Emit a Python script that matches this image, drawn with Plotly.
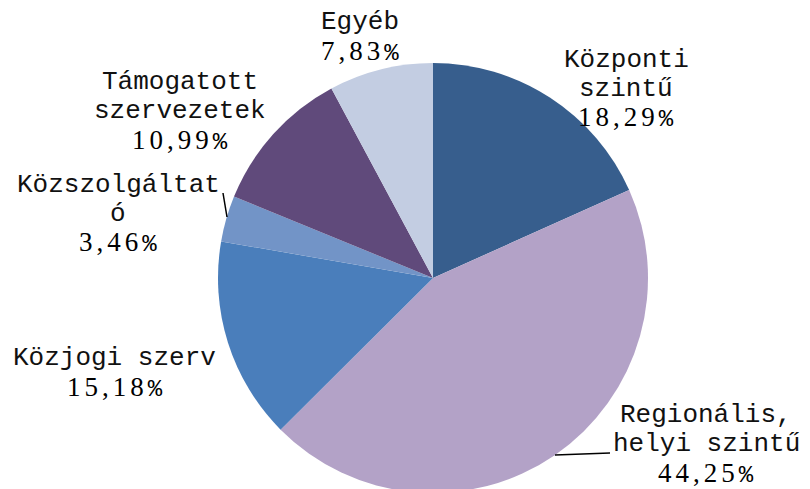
import plotly.graph_objects as go

labels = ["Központi szintű", "Regionális, helyi szintű", "Közjogi szerv",
          "Közszolgáltató", "Támogatott szervezetek", "Egyéb"]
values = [18.29, 44.25, 15.18, 3.46, 10.99, 7.83]
colors = ["#375E8D", "#B3A2C7", "#4A7EBB", "#7294C7", "#604A7B", "#C3CDE2"]

# label line breaks as shown in the chart
label_lines = [["Központi", "szintű"], ["Regionális,", "helyi szintű"], ["Közjogi szerv"],
               ["Közszolgáltat", "ó"], ["Támogatott", "szervezetek"], ["Egyéb"]]

W, H = 810, 489
OFF = 8  # page body margin offset
# label block placement (pixel centre x, first line y) in screen pixels
label_pos = [(626, 60), (706, 415), (115, 358), (118, 185), (180, 82), (360, 22)]
line_h = 28.5

NAME_FONT = "Liberation Mono"
NUM_FONT = "Liberation Serif"


def px(x):
    return (x - OFF) / W


def py(y):
    return 1 - (y - OFF) / H


CX, CY, R = 433, 278, 215
fig = go.Figure(go.Pie(
    labels=labels, values=values, sort=False, direction="clockwise", rotation=0,
    marker=dict(colors=colors, line=dict(width=0)),
    textinfo="none", hoverinfo="label+percent", showlegend=False,
    domain=dict(x=[px(CX - R), px(CX + R)], y=[py(CY + R), py(CY - R)]),
))

annotations = []
for lines, v, (cx, y0) in zip(label_lines, values, label_pos):
    for i, ln in enumerate(lines):
        annotations.append(dict(
            x=px(cx), y=py(y0 + i * line_h), xref="paper", yref="paper",
            text=ln, showarrow=False, xanchor="center", yanchor="middle",
            font=dict(family=NAME_FONT, size=26, color="#111111")))
    num = f"{v:.2f}".replace(".", ",")
    txt = (f'<span style="letter-spacing:4px">{num}</span>'
           f'<span style="font-family:Liberation Mono;font-size:24px">%</span>')
    annotations.append(dict(
        x=px(cx), y=py(y0 + len(lines) * line_h + 1), xref="paper", yref="paper",
        text=txt, showarrow=False, xanchor="center", yanchor="middle",
        font=dict(family=NUM_FONT, size=27, color="#000000")))

# leader lines (screen pixels)
leaders = [((223, 193), (227, 217)), ((555, 455), (610, 453))]
shapes = [dict(type="line", xref="paper", yref="paper",
               x0=px(a[0]), y0=py(a[1]), x1=px(b[0]), y1=py(b[1]),
               line=dict(color="#000000", width=1.5)) for a, b in leaders]

fig.update_layout(
    width=W, height=H, margin=dict(l=0, r=0, t=0, b=0),
    paper_bgcolor="#FFFFFF", plot_bgcolor="#FFFFFF",
    annotations=annotations, shapes=shapes,
)
fig.write_html("out.html")
